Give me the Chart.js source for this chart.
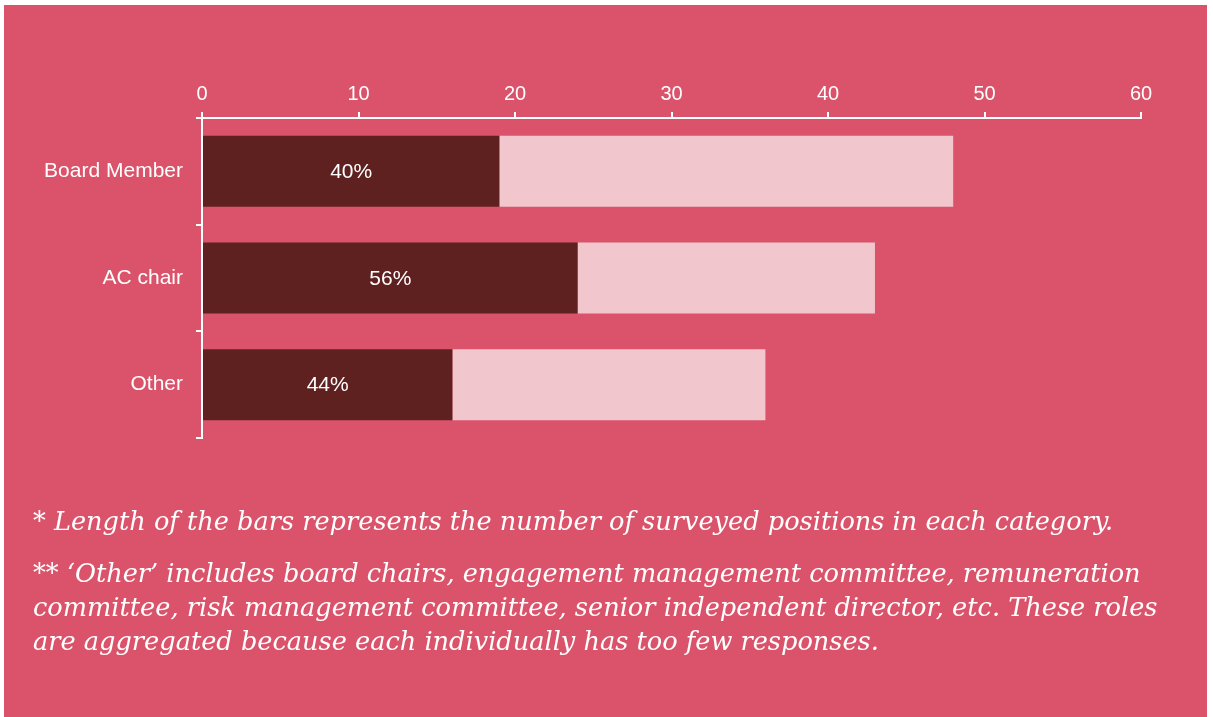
<!DOCTYPE html>
<html>
<head>
<meta charset="utf-8">
<script src="https://cdn.jsdelivr.net/npm/chart.js@4/dist/chart.umd.min.js"></script>
<style>
  html, body { margin: 0; padding: 0; background: #ffffff; }
  body { width: 1213px; height: 717px; position: relative; overflow: hidden; }
  #panel { position: absolute; left: 4px; top: 5px; width: 1203px; height: 712px; background: #DA536A; }
  #chart { position: absolute; left: 0; top: 0; }
  .note { position: absolute; left: 33px; color: #ffffff; font-family: "DejaVu Serif", serif; font-style: italic; line-height: 34px; white-space: nowrap; }
</style>
</head>
<body>
<div id="panel"></div>
<canvas id="chart" width="1213" height="717"></canvas>
<div class="note" id="note1" style="top:504px">* Length of the bars represents the number of surveyed positions in each category.</div>
<div class="note" id="note2" style="top:556px">** ‘Other’ includes board chairs, engagement management committee, remuneration<br>committee, risk management committee, senior independent director, etc. These roles<br>are aggregated because each individually has too few responses.</div>
<script>
// Surveyed positions per role: dark segment = share, light segment = remainder
const categories = ['Board Member', 'AC chair', 'Other'];
const shareCounts = [19, 24, 16];
const remainderCounts = [29, 19, 20];
const xTickMin = 0;
const xTickMax = 60;
const xTickStep = 10;

const shareLabels = shareCounts.map((v, i) =>
  Math.round(v / (v + remainderCounts[i]) * 100) + '%');

// Size the footnote font so the first line spans the panel text width
(function fitNotes() {
  const c = document.createElement('canvas').getContext('2d');
  c.font = 'italic 100px "DejaVu Serif"';
  const w = c.measureText(document.getElementById('note1').textContent).width;
  const size = 100 * 1080 / w;
  document.querySelectorAll('.note').forEach(n => n.style.fontSize = size.toFixed(2) + 'px');
})();

const barLabels = {
  id: 'barLabels',
  afterDatasetsDraw(chart) {
    const ctx = chart.ctx;
    const meta = chart.getDatasetMeta(0);
    ctx.save();
    ctx.fillStyle = '#ffffff';
    ctx.font = '21px "Liberation Sans", Arial, sans-serif';
    ctx.textAlign = 'center';
    ctx.textBaseline = 'middle';
    meta.data.forEach((bar, i) => {
      ctx.fillText(shareLabels[i], (bar.base + bar.x) / 2, bar.y + 1);
    });
    ctx.restore();
  }
};

new Chart(document.getElementById('chart'), {
  type: 'bar',
  data: {
    labels: categories,
    datasets: [
      { data: shareCounts, backgroundColor: '#5F2120', barPercentage: 0.665, categoryPercentage: 1 },
      { data: remainderCounts, backgroundColor: '#F2C6CD', barPercentage: 0.665, categoryPercentage: 1 }
    ]
  },
  options: {
    indexAxis: 'y',
    responsive: false,
    animation: false,
    layout: { padding: { left: 0, top: 0, right: 72, bottom: 279 } },
    plugins: { legend: { display: false }, tooltip: { enabled: false } },
    scales: {
      x: {
        position: 'top',
        stacked: true,
        min: xTickMin,
        max: xTickMax,
        ticks: { stepSize: xTickStep, color: '#ffffff', padding: 6,
                 font: { family: '"Liberation Sans", Arial, sans-serif', size: 20 } },
        grid: { drawOnChartArea: false, drawTicks: true, tickLength: 6, color: '#ffffff', lineWidth: 2 },
        border: { color: '#ffffff', width: 2 },
        afterFit(scale) { scale.height = 118; }
      },
      y: {
        stacked: true,
        ticks: { color: '#ffffff', padding: 13,
                 font: { family: '"Liberation Sans", Arial, sans-serif', size: 21 } },
        grid: { drawOnChartArea: false, drawTicks: true, tickLength: 6, color: '#ffffff', lineWidth: 2, offset: true },
        border: { color: '#ffffff', width: 2 },
        afterFit(scale) { scale.width = 202; }
      }
    }
  },
  plugins: [barLabels]
});
</script>
</body>
</html>
